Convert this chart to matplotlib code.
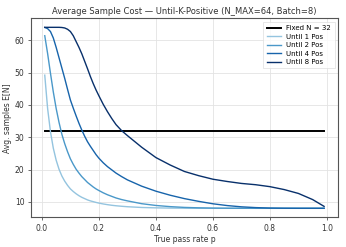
import numpy as np
import matplotlib
matplotlib.use("Agg")
import matplotlib.pyplot as plt

p = [0.01, 0.02, 0.03, 0.04, 0.05, 0.06, 0.07, 0.08, 0.09, 0.10, 0.11, 0.12,
     0.13, 0.14, 0.15, 0.16, 0.17, 0.18, 0.19, 0.20, 0.215, 0.23, 0.245, 0.26,
     0.28, 0.30, 0.35, 0.40, 0.45, 0.50, 0.55, 0.60, 0.65, 0.70, 0.75, 0.80,
     0.85, 0.90, 0.95, 0.99]

until_1 = [49.2, 38.9, 31.7, 26.6, 22.9, 20.1, 18.0, 16.4, 15.1, 14.0, 13.2, 12.5,
           11.9, 11.4, 11.0, 10.6, 10.3, 10.06, 9.82, 9.61, 9.35, 9.13, 8.94, 8.79,
           8.63, 8.49, 8.26, 8.14, 8.07, 8.03, 8.01, 8.0, 8.0, 8.0, 8.0, 8.0,
           8.0, 8.0, 8.0, 8.0]
until_2 = [61.4, 55.9, 49.8, 44.0, 38.9, 34.6, 30.9, 28.0, 25.5, 23.3, 21.6, 20.1,
           18.9, 17.8, 16.9, 16.0, 15.3, 14.6, 14.0, 13.5, 12.8, 12.2, 11.7, 11.2,
           10.7, 10.3, 9.43, 8.88, 8.52, 8.28, 8.15, 8.07, 8.03, 8.01, 8.0, 8.0,
           8.0, 8.0, 8.0, 8.0]
until_4 = [63.95, 63.6, 62.7, 60.7, 57.8, 54.6, 51.4, 48.2, 44.8, 41.5, 39.0, 36.6,
           34.3, 32.2, 30.3, 28.6, 27.2, 25.9, 24.6, 23.5, 22.1, 20.9, 19.9, 18.9,
           17.8, 16.8, 14.85, 13.3, 12.05, 11.0, 10.15, 9.40, 8.85, 8.46, 8.22, 8.08,
           8.02, 8.0, 8.0, 8.0]
until_8 = [64.0, 64.0, 64.0, 64.0, 64.0, 64.0, 63.95, 63.8, 63.4, 62.7, 61.4, 59.6,
           57.8, 55.8, 53.5, 51.2, 48.8, 46.6, 44.6, 42.8, 40.2, 37.9, 35.8, 33.9,
           32.0, 30.5, 26.9, 23.7, 21.4, 19.4, 18.1, 17.0, 16.3, 15.7, 15.3, 14.7,
           13.8, 12.6, 10.7, 8.6]
fixed_n = 32

series = [("Until 1 Pos", until_1), ("Until 2 Pos", until_2),
          ("Until 4 Pos", until_4), ("Until 8 Pos", until_8)]
colors = plt.cm.Blues(np.linspace(0.4, 1.0, 4))

fig, ax = plt.subplots(figsize=(3.46, 2.47), dpi=100)
fig.subplots_adjust(left=0.089, right=0.977, top=0.926, bottom=0.12)

ax.plot(p, [fixed_n] * len(p), color="black", lw=1.4, label=f"Fixed N = {fixed_n}")
for (name, vals), c in zip(series, colors):
    ax.plot(p, vals, color=c, lw=1.0, label=name)

ax.grid(True, color="#e3e3e3", lw=0.6)
ax.set_axisbelow(True)
for s in ax.spines.values():
    s.set_color("#555555")
    s.set_linewidth(0.8)
ax.tick_params(labelsize=5.5, length=2.5, width=0.6, color="#555555",
               labelcolor="#333333", pad=2)
ax.set_xticks([0.0, 0.2, 0.4, 0.6, 0.8, 1.0])
ax.set_xlabel("True pass rate p", fontsize=5.5, color="#333333", labelpad=2)
ax.set_ylabel("Avg. samples E[N]", fontsize=5.5, color="#333333", labelpad=2)
ax.set_title("Average Sample Cost — Until-K-Positive (N_MAX=64, Batch=8)",
             fontsize=6, color="#333333", pad=3)
leg = ax.legend(loc="upper right", fontsize=5, frameon=True, fancybox=False,
                handlelength=2.0, borderpad=0.5, labelspacing=0.35)
leg.get_frame().set_edgecolor("#dddddd")
leg.get_frame().set_linewidth(0.6)

fig.savefig("out.png", dpi=100)
